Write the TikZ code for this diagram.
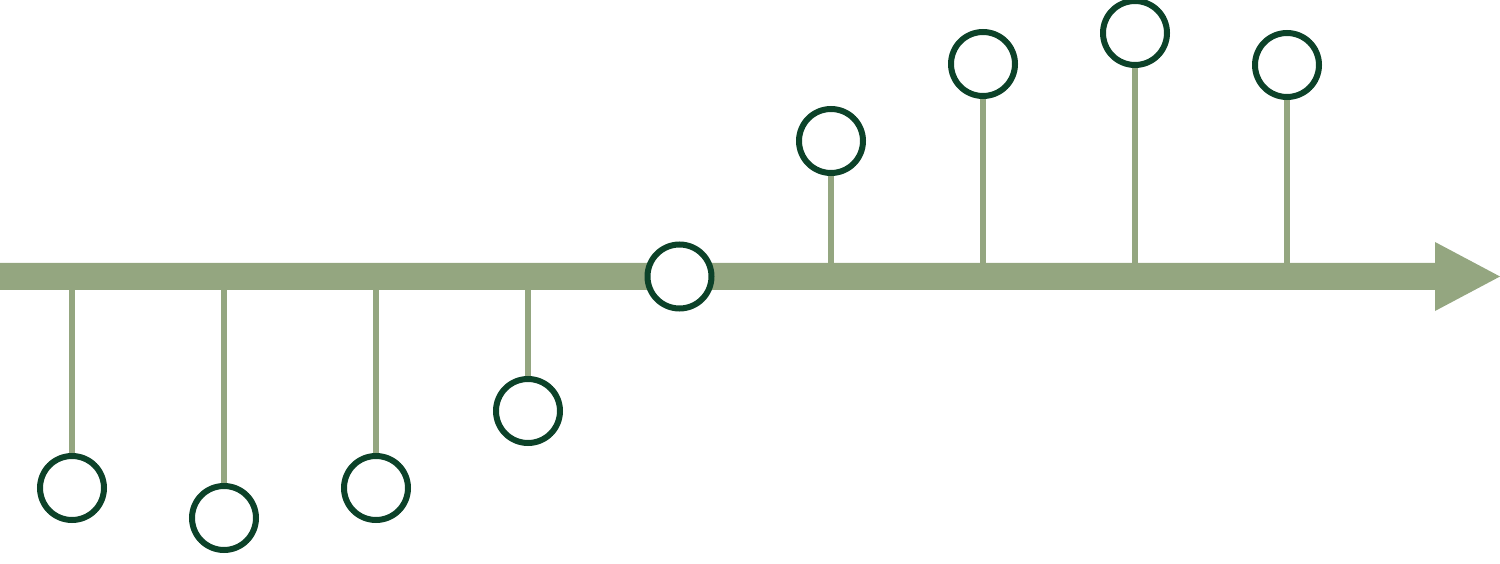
\documentclass[tikz,border=0pt]{standalone}
\definecolor{axisgreen}{HTML}{94A680}
\definecolor{ringgreen}{HTML}{0C4229}
\tikzset{
  ring/.style={circle, draw=ringgreen, line width=6pt, fill=white, inner sep=0pt, minimum size=64pt},
  stem/.style={draw=axisgreen, line width=6pt},
}
\begin{document}
\begin{tikzpicture}[x=1pt,y=-1pt]
\useasboundingbox (0,0) rectangle (1500,564);
% axis arrow
\fill[axisgreen] (0,263) -- (1435,263) -- (1435,242) -- (1500,276.5) -- (1435,311) -- (1435,290) -- (0,290) -- cycle;
\coordinate (axis) at (0,276.5);
% positions
\coordinate (p1) at (72,488);
\coordinate (p2) at (224,518);
\coordinate (p3) at (376,488);
\coordinate (p4) at (528,411);
\coordinate (p5) at (679.5,276.5);
\coordinate (p6) at (831,141);
\coordinate (p7) at (983,64);
\coordinate (p8) at (1135,33);
\coordinate (p9) at (1287,65);
% stems
\foreach \i in {1,2,3,4,6,7,8,9}{
  \draw[stem] (p\i) -- (p\i |- axis);
}
% rings
\foreach \i in {1,...,9}{
  \node[ring] (c\i) at (p\i) {};
}
\end{tikzpicture}
\end{document}
